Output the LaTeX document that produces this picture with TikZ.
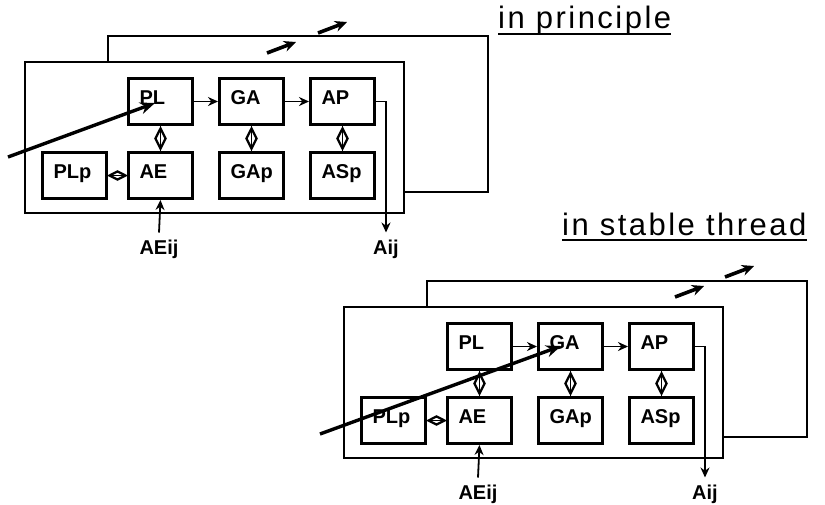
\documentclass[tikz,border=0pt]{standalone}
\usepackage{fontspec}
\setmainfont{Liberation Sans}
\newfontfamily\titlefont[LetterSpace=8]{Liberation Sans}
\usetikzlibrary{arrows.meta,shapes.geometric}

\tikzset{
  frame/.style={line width=2pt},
  blk/.style={draw, line width=3pt, anchor=north west,
    minimum width=64pt, minimum height=46pt, text width=42pt,
    inner xsep=11pt, inner ysep=0pt, align=left,
    text height=14pt, text depth=9pt,
    font=\bfseries\fontsize{20}{22}\selectfont},
  link/.style={line width=1.8pt, -{Stealth[length=10pt,width=9pt]}},
  pair/.style={line width=1.8pt},
  diav/.style={draw, diamond, line width=2.2pt, inner sep=0pt,
    minimum width=11pt, minimum height=21pt},
  diah/.style={draw, diamond, line width=2.2pt, inner sep=0pt,
    minimum width=17pt, minimum height=9pt},
  lbl/.style={anchor=base, inner sep=0pt, outer ysep=7pt,
    font=\bfseries\fontsize{20}{22}\selectfont},
  dart/.style={line width=3.4pt, -{Stealth[length=15pt,width=12pt]}},
  sarrow/.style={line width=3.6pt, -{Stealth[length=12pt,width=11pt]}},
  title/.style={anchor=base west, inner sep=0pt,
    font=\titlefont\fontsize{31}{34}\selectfont},
  uline/.style={line width=2pt}
}

% one processing unit: back frame, front frame, blocks and their links
\newcommand{\threadunit}{%
  \draw[frame] (108,62) |- (488,36) |- (404,192);
  \draw[frame] (25,62) rectangle (404,213);
  \node[blk] (PL)  at (127,77)  {PL};
  \node[blk] (GA)  at (218,77)  {GA};
  \node[blk] (AP)  at (309,77)  {AP};
  \node[blk] (PLp) at (41,151)  {PLp};
  \node[blk] (AE)  at (127,151) {AE};
  \node[blk] (GAp) at (218,151) {GAp};
  \node[blk] (ASp) at (309,151) {ASp};
  \draw[link] (PL) -- (GA);
  \draw[link] (GA) -- (AP);
  \draw[pair] (PL.south) -- (AE.north) node[midway, diav] {};
  \draw[pair] (GA.south) -- (GAp.north) node[midway, diav] {};
  \draw[pair] (AP.south) -- (ASp.north) node[midway, diav] {};
  \draw[pair] (AE.west) -- (PLp.east) node[midway, diah] {};
  \node[lbl] (AEij) at (159,254) {AEij};
  \node[lbl] (Aij)  at (386,254) {Aij};
  \draw[link] (AEij.north) -- (AE.south);
  \draw[link] (AP.east) -| (Aij.north);
}

\begin{document}
\begin{tikzpicture}[x=1pt, y=-1pt]
  \useasboundingbox (0,0) rectangle (825,504);

  % upper unit
  \begin{scope}[name prefix=p-]
    \threadunit
  \end{scope}
  \coordinate (p-in) at (8,157);
  \coordinate (p-hit) at (155,103);
  \draw[dart] (p-in) -- (p-hit);
  \coordinate (p-a1) at (267,53);  \coordinate (p-a1e) at (296,42);
  \coordinate (p-a2) at (318,33);  \coordinate (p-a2e) at (347,22);
  \draw[sarrow] (p-a1) -- (p-a1e);
  \draw[sarrow] (p-a2) -- (p-a2e);
  \node[title] (t-p) at (498,28) {in principle};
  \draw[uline] ([yshift=-5.5pt]t-p.base west) -- ([yshift=-5.5pt]t-p.base east);

  % lower unit
  \begin{scope}[shift={(319,245)}, name prefix=s-]
    \threadunit
  \end{scope}
  \coordinate (s-in) at (320,434);
  \coordinate (s-hit) at (561,346);
  \draw[dart] (s-in) -- (s-hit);
  \coordinate (s-a1) at (675,297);  \coordinate (s-a1e) at (704,286);
  \coordinate (s-a2) at (725,277);  \coordinate (s-a2e) at (754,266);
  \draw[sarrow] (s-a1) -- (s-a1e);
  \draw[sarrow] (s-a2) -- (s-a2e);
  \node[title] (t-s) at (562,235) {in stable thread};
  \draw[uline] ([yshift=-5pt]t-s.base west) -- ([yshift=-5pt]t-s.base east);
\end{tikzpicture}
\end{document}
